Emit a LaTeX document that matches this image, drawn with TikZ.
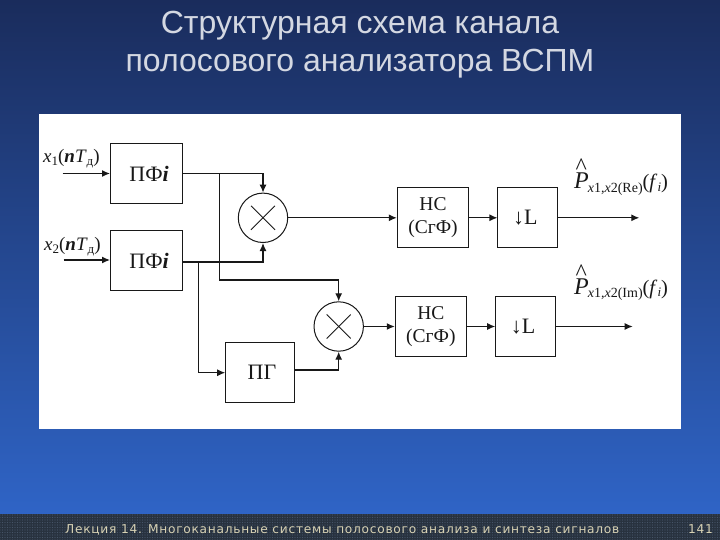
\documentclass[tikz,border=0pt]{standalone}
\usepackage{fontspec}
\setmainfont{Liberation Serif}
\newfontfamily\ttlfont{Liberation Sans}
\newfontfamily\ftfont[LetterSpace=6]{DejaVu Sans}
\usetikzlibrary{arrows.meta,patterns.meta}
\definecolor{bgtop}{HTML}{1A2C5C}
\definecolor{bgbot}{HTML}{2F64C6}
\definecolor{ftbg}{HTML}{28323F}
\definecolor{ftdot}{HTML}{465468}
\definecolor{fttxt}{HTML}{D8D2B4}
\definecolor{ttl}{HTML}{D4D8E2}
\definecolor{ink}{HTML}{181818}
\newcommand{\fsz}[1]{\fontsize{#1}{#1}\selectfont}
\newcommand{\phat}[1]{\makebox[0pt][l]{\raisebox{14pt}[0pt][0pt]{\hspace{1.5pt}\fsz{24}\textasciicircum}}{\fsz{24}\textit{P}}\kern-1pt\raisebox{-3.5pt}{\fsz{14}#1}(\textit{f}\raisebox{-2.5pt}{\fsz{13}\textit{i}})}
\newcommand{\xin}[1]{\textit{x}\raisebox{-3pt}{\fsz{13}#1}(\textbf{\textit{n}}\textit{T}\raisebox{-3pt}{\fsz{13}д})}
\newcommand{\bump}[3]{\hspace{#1}\raisebox{#2}{#3}}
\tikzset{
 blk/.style={draw=ink,line width=1pt,fill=white,inner sep=0pt,align=center,text=ink},
 mix/.style={draw=ink,line width=1pt,circle,inner sep=0pt,minimum size=49.4pt,
   path picture={\draw[ink,line width=0.8pt] (path picture bounding box.center)+(-12pt,-12pt) -- +(12pt,12pt);
   \draw[ink,line width=0.8pt] (path picture bounding box.center)+(-12pt,12pt) -- +(12pt,-12pt);}},
 wire/.style={ink,line width=1.2pt},
 arr/.style={wire,-{Latex[length=8pt,width=7pt]}},
 lab/.style={inner sep=0pt,anchor=base west,text=ink},
 big/.style={font=\fsz{22}},
 mid/.style={font=\fontsize{19.5}{23}\selectfont},
}
\begin{document}
\begin{tikzpicture}[x=1pt,y=-1pt]
\useasboundingbox (0,0) rectangle (720,540);
\shade[top color=bgtop,bottom color=bgbot] (0,0) rectangle (720,514);
\fill[ftbg] (0,514) rectangle (720,540);
\fill[pattern={Dots[distance=2.5pt,radius=0.6pt]},pattern color=ftdot] (0,514) rectangle (720,540);
\fill[white] (39,114) rectangle (681,429);
\node[inner sep=0pt,anchor=base,text=ttl,font=\ttlfont\fsz{32}] (t1) at (360,33.5) {Структурная схема канала};
\node[inner sep=0pt,anchor=base,text=ttl,font=\ttlfont\fsz{32}] (t2) at (360,72) {полосового анализатора ВСПМ};
\node[inner sep=0pt,anchor=base west,text=fttxt,font=\ftfont\fsz{12.2}] (f1) at (65,533) {Лекция 14. Многоканальные  системы полосового анализа и синтеза сигналов};
\node[inner sep=0pt,anchor=base west,text=fttxt,font=\ftfont\fsz{12.2}] (f2) at (688,533) {141};
% blocks
\node[blk,big,minimum width=72.2pt,minimum height=59.6pt] (pf1) at (146.6,173.5) {\bump{5pt}{-2pt}{ПФ\textit{\textbf{i}}}};
\node[blk,big,minimum width=72.2pt,minimum height=59.6pt] (pf2) at (146.6,260.8) {\bump{5pt}{-2pt}{ПФ\textit{\textbf{i}}}};
\node[blk,big,minimum width=68.6pt,minimum height=60pt] (pg) at (260,372.3) {\bump{4pt}{0pt}{ПГ}};
\node[mix] (m1) at (263,217.8) {};
\node[mix] (m2) at (338.7,326.5) {};
\node[blk,mid,minimum width=71.4pt,minimum height=59.7pt] (ns1) at (433,217.8) {НС\\(СгФ)};
\node[blk,big,minimum width=59.7pt,minimum height=59.7pt] (l1) at (527.8,217.8) {\bump{-5pt}{0pt}{↓L}};
\node[blk,mid,minimum width=71pt,minimum height=59.6pt] (ns2) at (430.8,326.5) {НС\\(СгФ)};
\node[blk,big,minimum width=59.6pt,minimum height=59.6pt] (l2) at (525.5,326.5) {\bump{-5pt}{0pt}{↓L}};
% labels
\node[lab,font=\fsz{19}] (x1) at (43,163) {\xin{1}};
\node[lab,font=\fsz{19}] (x2) at (44,250) {\xin{2}};
\node[lab,font=\fsz{20.5}] (p1) at (574,189) {\phat{\textit{x}1,\textit{x}2(Re)}};
\node[lab,font=\fsz{20.5}] (p2) at (574,294) {\phat{\textit{x}1,\textit{x}2(Im)}};
% free ends and junctions
\coordinate (in1) at (62.7,173.5);
\coordinate (in2) at (63.7,260);
\coordinate (o1) at (639.3,217.8);
\coordinate (o2) at (632.7,326.5);
\coordinate (j1) at (219.3,173.5);
\coordinate (j1b) at (219.3,280);
\coordinate (j2) at (198.7,262);
\coordinate (j2b) at (198.7,372.7);
\coordinate (p2a) at (182.7,262);
\coordinate (pgo) at (294.3,370);
% connectors
\draw[arr] (in1) -- (pf1.west);
\draw[arr] (in2) -- (pf2.west |- in2);
\draw[arr] (pf1.east) -| (m1.north);
\draw[arr] (p2a) -| (m1.south);
\draw[wire] (j1) -- (j1b);
\draw[arr] (j1b) -| (m2.north);
\draw[arr] (j2) |- (pg.west |- j2b);
\draw[arr] (pgo) -| (m2.south);
\draw[arr] (m1.east) -- (ns1.west);
\draw[arr] (ns1.east) -- (l1.west);
\draw[arr] (l1.east) -- (o1);
\draw[arr] (m2.east) -- (ns2.west);
\draw[arr] (ns2.east) -- (l2.west);
\draw[arr] (l2.east) -- (o2);
\end{tikzpicture}
\end{document}
